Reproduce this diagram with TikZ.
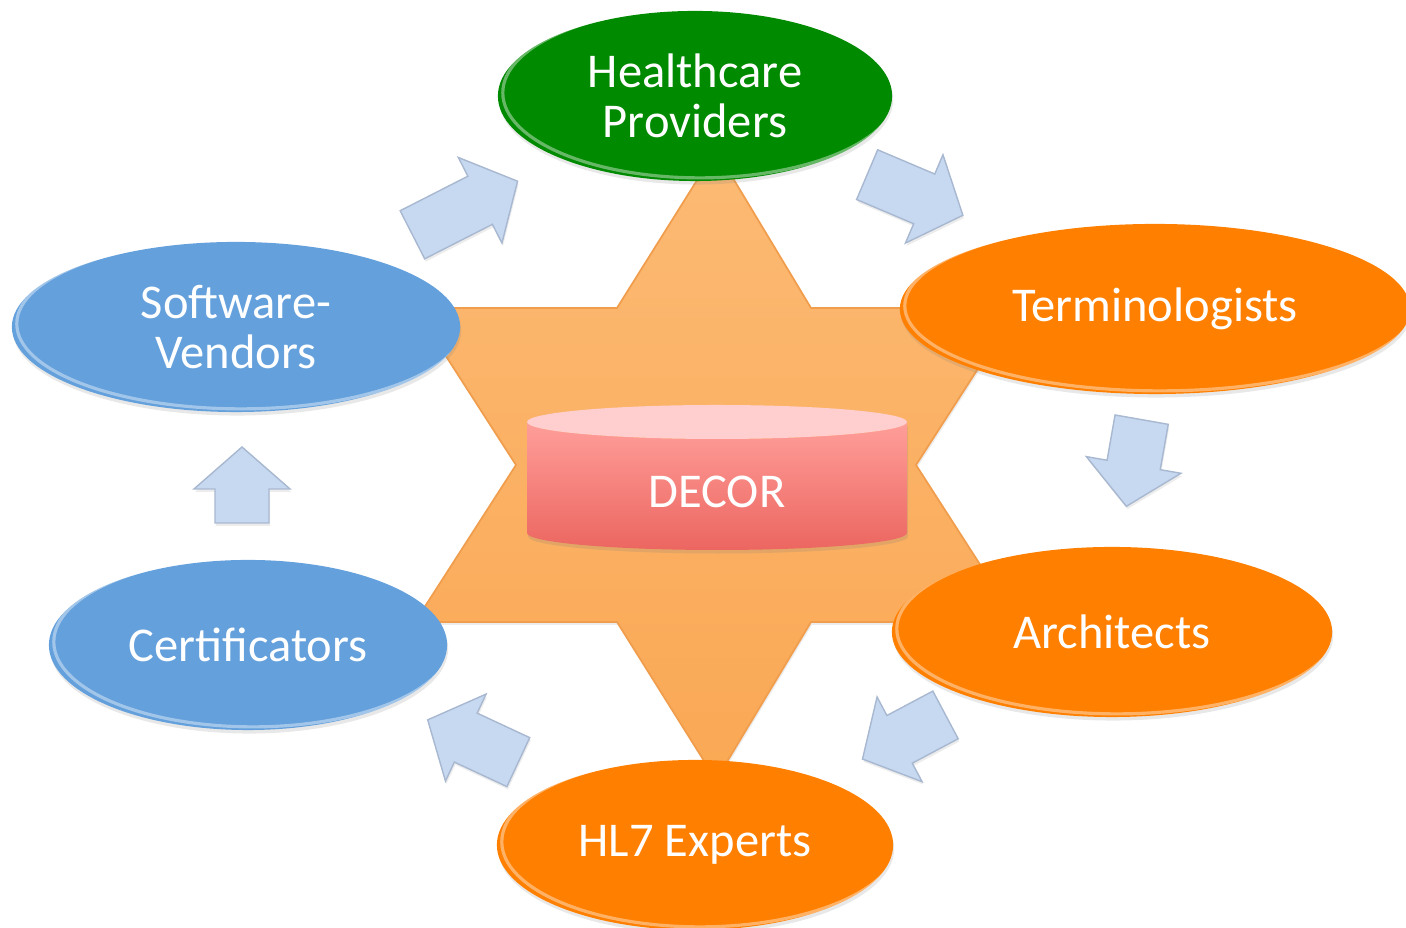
\documentclass[tikz,border=0pt]{standalone}
\usepackage{fontspec}
\setmainfont{Carlito}
\usetikzlibrary{shapes.geometric,shadows,calc}

\definecolor{hcgreen}{RGB}{0,138,0}
\definecolor{roleorange}{RGB}{255,128,0}
\definecolor{vendorblue}{RGB}{100,160,220}
\definecolor{startop}{RGB}{252,186,116}
\definecolor{starbot}{RGB}{250,168,84}
\definecolor{starline}{RGB}{240,158,78}
\definecolor{arrowfill}{RGB}{198,217,241}
\definecolor{arrowline}{RGB}{168,184,208}
\definecolor{dbtop}{RGB}{255,206,206}
\definecolor{dbhigh}{RGB}{255,158,154}
\definecolor{dblow}{RGB}{236,102,96}

\newcommand{\partyfont}{\fontsize{13.8}{14.3}\selectfont}

% block arrow: centre x, centre y, direction, length
\newcommand{\flowarrow}[4]{%
  \path[flowbox, shift={(#1,#2)}, rotate=#3]
    (-#4/2,-27) -- (#4/2-42,-27) -- (#4/2-42,-48) -- (#4/2,0)
    -- (#4/2-42,48) -- (#4/2-42,27) -- (-#4/2,27) -- cycle;}

\begin{document}
\begin{tikzpicture}[x=0.01cm, y=0.01cm,
  party/.style={ellipse, minimum width=#1, minimum height=1.7cm, inner sep=0pt,
    text=white, font=\partyfont, align=center,
    drop shadow={shadow xshift=0.3pt, shadow yshift=-1pt, opacity=0.18},
    path picture={
      \draw[white, opacity=.4, line width=0.9pt]
        let \p1=($(path picture bounding box.north east)-(path picture bounding box.center)$) in
        ([shift={(1.4pt,0.9pt)}]path picture bounding box.center)
        ellipse [x radius=\x1, y radius=\y1];}},
  starshape/.style={top color=startop, bottom color=starbot, draw=starline, line width=0.5pt,
    drop shadow={shadow xshift=0.3pt, shadow yshift=-0.8pt, opacity=0.15}},
  flowbox/.style={fill=arrowfill, draw=arrowline, line width=0.4pt,
    drop shadow={shadow xshift=0.3pt, shadow yshift=-0.8pt, opacity=0.15}},
  decorbody/.style={top color=dbhigh, bottom color=dblow,
    drop shadow={shadow xshift=0.3pt, shadow yshift=-1pt, opacity=0.2}},
  decortop/.style={fill=dbtop}]

\useasboundingbox (0,0) rectangle (1406,928);

% six pointed star behind everything
\path[starshape] (716,778) -- (811,620) -- (1017,620) -- (916,463) -- (1017,306)
  -- (811,306) -- (716,148) -- (617,306) -- (415,306) -- (516,463) -- (415,620)
  -- (617,620) -- cycle;

% DECOR store
\path[decorbody] (527,506) -- (527,395)
  arc[start angle=180, end angle=360, x radius=190, y radius=17] -- (907,506)
  arc[start angle=0, end angle=-180, x radius=190, y radius=17] -- cycle;
\path[decortop] (717,506) ellipse [x radius=190, y radius=17];
\node[text=white, font=\partyfont] (decor) at (717,436) {DECOR};

% flow arrows
\flowarrow{465}{720}{27}{118}
\flowarrow{915}{733}{-23}{104}
\flowarrow{1134}{465}{-100}{88}
\flowarrow{904}{191}{208}{94}
\flowarrow{473}{187}{155}{100}
\flowarrow{242}{443}{90}{76}

% parties
\node[party=3.94cm, fill=hcgreen] (health) at (695,832) {Healthcare\\Providers};
\node[party=5.1cm, fill=roleorange] (term) at (1155,619) {Terminologists};
\node[party=4.4cm, fill=roleorange] (arch) at (1112,296) {Architects};
\node[party=3.96cm, fill=roleorange] (hlseven) at (695,83) {HL7 Experts};
\node[party=3.98cm, fill=vendorblue] (cert) at (248,283) {Certificators};
\node[party=4.48cm, fill=vendorblue] (soft) at (236,601) {Software-\\Vendors};

\end{tikzpicture}
\end{document}
